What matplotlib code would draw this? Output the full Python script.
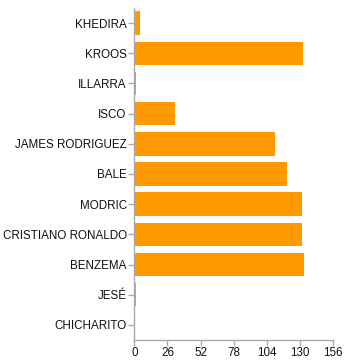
import matplotlib
matplotlib.use("Agg")
import matplotlib.pyplot as plt

players = ["KHEDIRA", "KROOS", "ILLARRA", "ISCO", "JAMES RODRIGUEZ", "BALE",
           "MODRIC", "CRISTIANO RONALDO", "BENZEMA", "JESÉ", "CHICHARITO"]
values = [4.5, 132.5, 1.3, 31.6, 110.5, 119.4, 131.4, 131.4, 132.7, 1.3, 0]
xticks = [0, 26, 52, 78, 104, 130, 156]

plt.rcParams['font.family'] = ['Liberation Sans', 'DejaVu Sans']

fig = plt.figure(figsize=(3.45, 3.6), dpi=100)
ax = fig.add_axes([134.3/345, 20/360, (333.3-134.3)/345, (352-20)/360])

ypos = list(range(len(players)))
ax.barh(ypos, values, height=0.78, color="#ff9900")
ax.set_ylim(len(players) - 0.5, -0.5)
ax.set_xlim(0, 156)
ax.set_yticks(ypos)
ax.set_yticklabels(players)
ax.set_xticks(xticks)
ax.set_xticklabels([str(t) for t in xticks])

for s in ["top", "right"]:
    ax.spines[s].set_visible(False)
for s in ["left", "bottom"]:
    ax.spines[s].set_color("#aaaaaa")
    ax.spines[s].set_linewidth(1)
ax.tick_params(axis="both", colors="#aaaaaa", labelcolor="#111111",
               length=4, width=1, labelsize=8.4)
ax.tick_params(axis="y", pad=1.5)
ax.tick_params(axis="x", pad=1)

fig.savefig("out.png", dpi=100)
